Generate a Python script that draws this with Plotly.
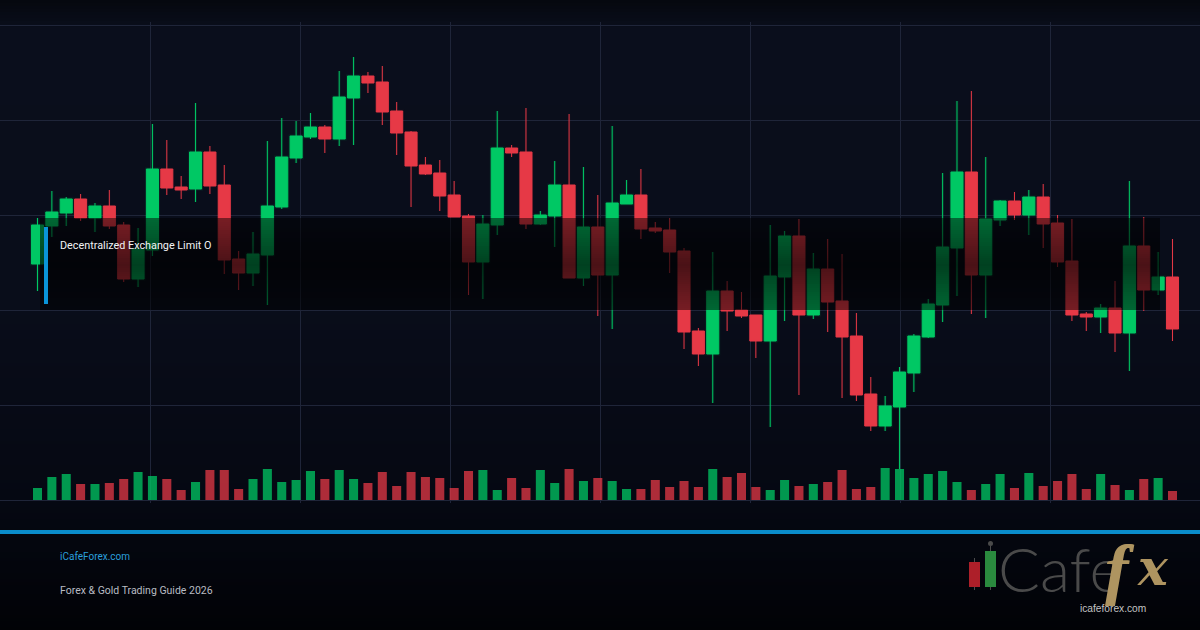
import plotly.graph_objects as go

# Candle series, in price units on an unlabelled axis
opens = [236,274,287,301,282,294,275,221,250,331,313,311,348,315,241,227,245,293,342,363,
         373,361,402,424,418,389,368,335,327,305,284,238,275,352,348,276,284,315,222,273,
         225,296,305,272,270,249,169,146,209,190,185,159,223,264,185,231,199,164,106,74,
         93,127,163,195,252,328,225,280,299,285,303,277,239,186,183,192,167,254,210,223]
highs = [282,309,303,306,297,310,278,272,376,360,324,397,354,335,249,268,359,382,379,387,
         375,429,443,428,434,398,369,343,340,319,286,285,389,355,392,289,339,386,333,305,
         374,320,331,278,282,252,172,248,219,208,185,275,269,281,247,261,246,187,123,104,
         133,166,201,327,399,409,343,300,308,310,316,285,281,188,196,219,319,283,248,261]
lows = [209,263,274,279,268,271,218,213,244,305,301,298,306,226,210,214,195,291,337,361,
        347,354,355,407,375,345,293,325,289,283,205,201,265,343,271,275,253,222,214,184,
        171,296,261,267,227,151,134,97,169,182,142,73,179,105,181,168,102,99,69,69,
        31,108,162,178,204,186,182,274,280,265,252,233,179,169,167,148,129,189,205,159]
closes = [275,288,301,282,294,274,221,251,331,312,310,348,314,240,227,246,294,343,364,373,
          361,403,424,417,388,367,334,326,304,283,238,276,352,347,276,285,315,222,273,225,
          297,305,271,269,248,168,146,209,189,184,159,224,264,185,231,198,163,105,74,94,
          128,164,196,253,328,225,281,299,285,303,276,238,185,183,192,167,254,210,223,171]
volumes = [12,23,26,16,16,17,21,28,24,21,10,18,30,30,11,21,31,18,20,29,
           21,30,21,17,28,14,28,23,22,12,29,30,10,22,12,30,17,31,19,22,
           19,11,11,20,13,19,13,31,23,27,13,10,20,14,16,18,30,11,13,32,
           31,22,26,29,18,10,16,26,12,27,14,19,26,11,26,15,10,21,22,9]
sessions = list(range(len(opens)))

TITLE = "Decentralized Exchange Limit O"
SITE = "iCafeForex.com"
GUIDE = "Forex & Gold Trading Guide 2026"

W, H = 1200, 630
STEP = 14.367
FIRST = 37.5
GREEN, RED = "#00c864", "#e63946"
GOLD = "#ae9460"
GRID = "#1f2539"

# Vertical colour stops of the page background
BACKDROP = [(0, (5, 8, 15)), (28, (10, 14, 28)), (300, (9, 13, 26)), (500, (5, 8, 18)), (630, (1, 2, 6))]


def px(v):
    return v / W


def py(v):
    return 1 - v / H


def backdrop(y):
    for (y0, c0), (y1, c1) in zip(BACKDROP, BACKDROP[1:]):
        if y <= y1:
            t = (y - y0) / (y1 - y0)
            return tuple(round(c0[i] + (c1[i] - c0[i]) * t, 1) for i in range(3))
    return BACKDROP[-1][1]


def rect(x0, y0, x1, y1, color, layer="below"):
    return dict(type="rect", xref="paper", yref="paper", x0=px(x0), x1=px(x1), y0=py(y0), y1=py(y1),
                fillcolor=color, line_width=0, layer=layer)


shapes = [rect(0, y, W, y + 3, f"rgb{backdrop(y)}") for y in range(0, H, 3)]

# Dark caption panel over the chart, deepest through its middle
top, bottom = 218, 310
for y in range(top, bottom, 2):
    t = (y - top) / (bottom - top)
    a = 0.48 + 0.2 * (1 - abs(2 * t - 1))
    shapes.append(rect(40, y, 1160, y + 2, f"rgba(0,0,0,{a:.3f})", "above"))

# Caption accent and footer rule
shapes.append(rect(44, 227, 48, 304, "#0a94d8", "above"))
shapes.append(rect(0, 530, W, 534, "#0a8ccc", "above"))

# Logo candles with their wicks
shapes += [
    rect(974, 558, 975, 590, "#4a4a4a", "above"),
    rect(969, 562, 980, 587, "#ad1f29", "above"),
    rect(990, 546, 991, 590, "#4a4a4a", "above"),
    rect(985, 551, 996, 587, "#2a8a3e", "above"),
    dict(type="circle", xref="paper", yref="paper", x0=px(988), x1=px(993), y0=py(546), y1=py(541),
         fillcolor="#4a4a4a", line_width=0, layer="above"),
]

fig = go.Figure()
fig.add_trace(go.Bar(
    x=sessions, y=volumes, width=0.63, yaxis="y2",
    marker=dict(color=[GREEN if c >= o else RED for o, c in zip(opens, closes)], line_width=0),
    opacity=0.75, hoverinfo="skip",
))
# Soft halo under the candles
fig.add_trace(go.Candlestick(
    x=sessions, open=opens, high=highs, low=lows, close=closes, whiskerwidth=0,
    increasing=dict(line=dict(color="rgba(0,200,100,0.1)", width=3), fillcolor="rgba(0,0,0,0)"),
    decreasing=dict(line=dict(color="rgba(230,57,70,0.04)", width=3), fillcolor="rgba(0,0,0,0)"),
    hoverinfo="skip",
))
fig.add_trace(go.Candlestick(
    x=sessions, open=opens, high=highs, low=lows, close=closes, whiskerwidth=0,
    increasing=dict(line=dict(color=GREEN, width=1), fillcolor=GREEN),
    decreasing=dict(line=dict(color=RED, width=1), fillcolor=RED),
    hoverinfo="skip",
))


def label(text, x, y, size, color, family="Roboto", anchor="left", **font):
    return dict(text=text, xref="paper", yref="paper", x=px(x), y=py(y), xanchor=anchor, yanchor="middle",
                showarrow=False, font=dict(family=family, size=size, color=color, **font))


annotations = [
    label(TITLE, 58, 245.5, 10.8, "#f2f3f5"),
    label(SITE, 58, 556, 10, "#2a9fdc"),
    label(GUIDE, 58, 590, 10.5, "#b9bcc3"),
    label("Cafe", 996, 568, 62, "#4a4a4a", family="Lato", weight=300),
    label("f", 1103, 569, 68, GOLD, family="Liberation Serif", weight=700, style="italic",
          shadow=f"1px 0 0 {GOLD}"),
    label("x", 1135, 567, 50, GOLD, family="DejaVu Serif", weight=700, style="italic"),
    label("icafeforex.com", 1078, 608, 10.2, "#c4c4c4", family="Liberation Sans"),
]

# The axes run a few units past the outer gridlines so those lines stay drawn
fig.update_layout(
    width=W, height=H, margin=dict(l=0, r=0, t=0, b=0), showlegend=False,
    paper_bgcolor="#0a0e1e", plot_bgcolor="rgba(0,0,0,0)",
    boxgap=0.16, boxgroupgap=0, barmode="overlay", shapes=shapes, annotations=annotations,
    xaxis=dict(type="linear", domain=[0, 1], range=[-FIRST / STEP, (W - FIRST) / STEP],
               tick0=-FIRST / STEP, dtick=150 / STEP, showgrid=True, gridcolor=GRID, gridwidth=1,
               showticklabels=False, zeroline=False, ticks="", rangeslider=dict(visible=False)),
    yaxis=dict(domain=[py(503), py(22)], range=[-3, 478], tick0=0, dtick=95, showgrid=True,
               gridcolor=GRID, gridwidth=1, showticklabels=False, zeroline=False, ticks=""),
    yaxis2=dict(domain=[py(503), py(22)], range=[-3, 478], overlaying="y", showgrid=False,
                showticklabels=False, zeroline=False, ticks=""),
)

fig.write_html("out.html", config=dict(displayModeBar=False))
